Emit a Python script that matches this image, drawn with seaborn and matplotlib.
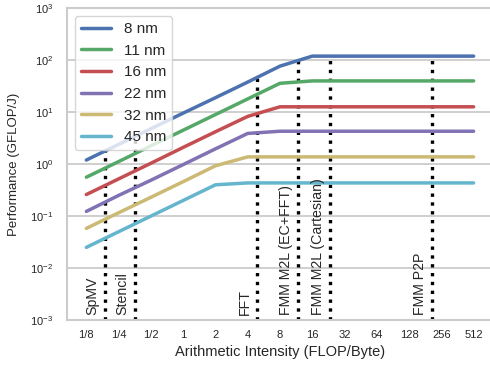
import numpy as np
import pandas as pd
import matplotlib
matplotlib.use("Agg")
import matplotlib.pyplot as plt
import seaborn as sns

# arithmetic intensity (FLOP/Byte) sample points
intensity = [1/8, 1/4, 1/2, 1, 2, 4, 8, 16, 32, 64, 128, 256, 512]
tick_labels = ["1/8", "1/4", "1/2", "1", "2", "4", "8", "16", "32", "64", "128", "256", "512"]
y_ticks = [1e-3, 1e-2, 1e-1, 1e0, 1e1, 1e2, 1e3]

# performance per energy (GFLOP/J) for each process node
perf_8nm = [1.2, 2.4, 4.8, 9.6, 19, 38, 77, 120, 120, 120, 120, 120, 120]
perf_11nm = [0.56, 1.12, 2.25, 4.5, 9.0, 18, 36, 40, 40, 40, 40, 40, 40]
perf_16nm = [0.26, 0.52, 1.04, 2.1, 4.2, 8.3, 12.7, 12.7, 12.7, 12.7, 12.7, 12.7, 12.7]
perf_22nm = [0.123, 0.25, 0.49, 0.98, 1.97, 3.9, 4.3, 4.3, 4.3, 4.3, 4.3, 4.3, 4.3]
perf_32nm = [0.058, 0.116, 0.23, 0.46, 0.93, 1.38, 1.38, 1.38, 1.38, 1.38, 1.38, 1.38, 1.38]
perf_45nm = [0.025, 0.05, 0.1, 0.2, 0.4, 0.435, 0.435, 0.435, 0.435, 0.435, 0.435, 0.435, 0.435]

nodes = ["8 nm", "11 nm", "16 nm", "22 nm", "32 nm", "45 nm"]
series = [perf_8nm, perf_11nm, perf_16nm, perf_22nm, perf_32nm, perf_45nm]

# kernels marked with vertical dotted lines
kernel_names = ["SpMV", "Stencil", "FFT", "FMM M2L (EC+FFT)", "FMM M2L (Cartesian)", "FMM P2P"]
kernel_ai = [0.185, 0.352, 4.87, 11.8, 23.5, 210]
kernel_top = [1.8, 3.4, 47, 100, 120, 120]

sns.set_theme(style="whitegrid")
plt.rcParams["font.family"] = ["Liberation Sans", "DejaVu Sans"]
plt.rcParams["axes.edgecolor"] = "0.8"
plt.rcParams["grid.color"] = "0.8"

df = pd.DataFrame({"ai": intensity})
for name, vals in zip(nodes, series):
    df[name] = vals
long_df = df.melt(id_vars="ai", var_name="node", value_name="perf")

fig = plt.figure(figsize=(4.9, 3.72), dpi=100)
ax = fig.add_axes([0.1367, 0.1398, 0.8694, 0.8379])

for x, top in zip(kernel_ai, kernel_top):
    ax.plot([x, x], [1e-3, top], color="black", linestyle=":", linewidth=2.4, zorder=2)

palette = sns.color_palette("deep6")
for i, name in enumerate(nodes):
    sub = long_df[long_df["node"] == name]
    sns.lineplot(data=sub, x="ai", y="perf", color=palette[i], linewidth=2.5,
                 label=name, ax=ax, zorder=3)

for name, x in zip(kernel_names, kernel_ai):
    ax.annotate(name, xy=(x, 1e-3), xytext=(-3.5, 3.5), textcoords="offset points",
                rotation=90, ha="right", va="bottom", fontsize=10.2, color="0.15")

ax.set_xscale("log", base=2)
ax.set_yscale("log")
ax.set_xlim(2 ** -3.6, 2 ** 9.6)
ax.set_ylim(1e-3, 1e3)
ax.set_xticks(intensity)
ax.set_xticklabels(tick_labels)
ax.set_yticks(y_ticks)
ax.minorticks_off()
ax.grid(False, axis="x")
ax.grid(True, axis="y", linewidth=1.3)
ax.tick_params(axis="x", labelsize=8, pad=7, length=0)
ax.tick_params(axis="y", labelsize=8, pad=10, length=0)
for s in ax.spines.values():
    s.set_linewidth(1.5)

ax.set_xlabel("Arithmetic Intensity (FLOP/Byte)", fontsize=10.5, labelpad=4)
ax.set_ylabel("Performance (GFLOP/J)", fontsize=9.5, labelpad=7)

leg = ax.legend(loc="upper left", fontsize=11, frameon=True, handlelength=2.0)
leg.set_zorder(5)

fig.savefig("out.png", dpi=100)
